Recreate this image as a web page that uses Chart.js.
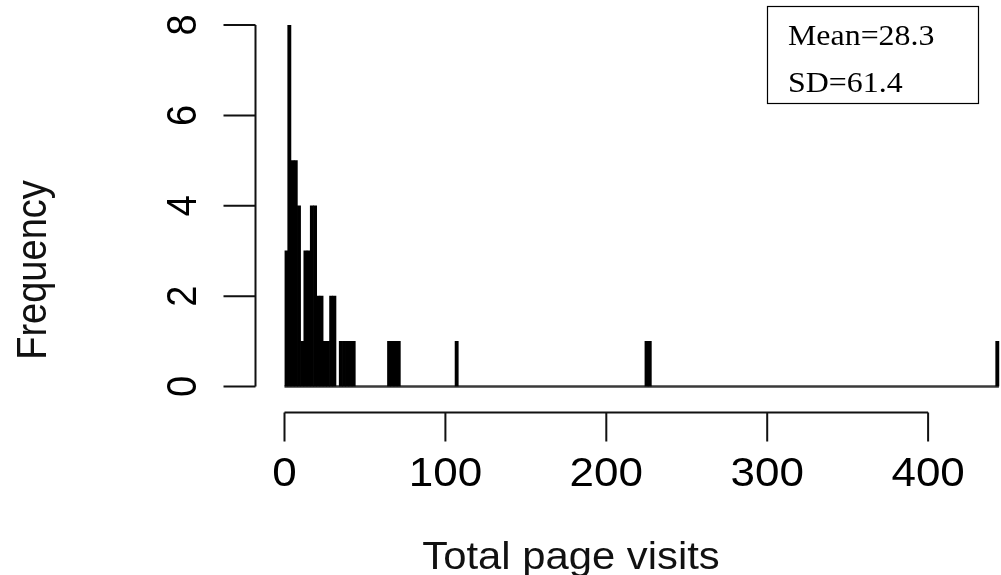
<!DOCTYPE html>
<html>
<head>
<meta charset="utf-8">
<script src="https://cdn.jsdelivr.net/npm/chart.js@4.4.1/dist/chart.umd.min.js"></script>
<style>
  html, body { margin: 0; padding: 0; background: #ffffff; }
  canvas { display: block; }
</style>
</head>
<body>
<canvas id="hist" width="1001" height="575"></canvas>
<script>
// Histogram of total page visits (bin width 2); only non-empty bins listed
const binWidth = 2;
const binStarts = [0, 2, 4, 6, 8, 10, 12, 14, 16, 18, 20, 22, 24, 26, 28, 30,
                   34, 36, 38, 40, 42, 64, 66, 68, 70, 106, 224, 226, 442];
const counts    = [3, 8, 5, 5, 4, 1, 3, 3, 4, 4, 2, 2, 1, 1, 2, 2,
                   1, 1, 1, 1, 1, 1, 1, 1, 1, 1, 1, 1, 1];
const xTicks = [0, 100, 200, 300, 400];
const yTicks = [0, 2, 4, 6, 8];
const xTitle = 'Total page visits';
const yTitle = 'Frequency';
const statLines = ['Mean=28.3', 'SD=61.4'];

const bars = binStarts.map((s, i) => ({ x: s + binWidth / 2, y: counts[i] }));
// empty bins collapse to a line along zero across the whole data range
const zeroLine = [
  { x: binStarts[0], y: 0 },
  { x: binStarts[binStarts.length - 1] + binWidth, y: 0 }
];

const SANS = '"Liberation Sans", Arial, sans-serif';
const SERIF = '"Liberation Serif", "Times New Roman", serif';
const WIDEN = 1.1; // text is drawn slightly wide, as in the printed figure

function wideText(ctx, text, x, y, angle) {
  ctx.save();
  ctx.translate(x, y);
  if (angle) ctx.rotate(angle);
  if (angle) ctx.scale(1, WIDEN); else ctx.scale(WIDEN, 1);
  ctx.fillText(text, 0, 0);
  ctx.restore();
}

// R-style detached axes, titles and the summary box
const baseAxes = {
  id: 'baseAxes',
  afterDraw(chart) {
    const ctx = chart.ctx;
    const xs = chart.scales.x, ys = chart.scales.y;
    const area = chart.chartArea;
    ctx.save();
    ctx.strokeStyle = '#111';
    ctx.fillStyle = '#000';
    ctx.lineWidth = 2;
    ctx.lineCap = 'butt';

    // y axis
    const ax = area.left - 29;
    const yA = ys.getPixelForValue(yTicks[0]);
    const yB = ys.getPixelForValue(yTicks[yTicks.length - 1]);
    ctx.beginPath();
    ctx.moveTo(ax, yA); ctx.lineTo(ax, yB);
    yTicks.forEach(v => {
      const py = ys.getPixelForValue(v);
      ctx.moveTo(ax, py); ctx.lineTo(ax - 32, py);
    });
    ctx.stroke();
    ctx.font = '38px ' + SANS;
    ctx.textAlign = 'center';
    ctx.textBaseline = 'alphabetic';
    yTicks.forEach(v => {
      wideText(ctx, String(v), 196, ys.getPixelForValue(v), -Math.PI / 2);
    });

    // x axis
    const ay = area.bottom + 26;
    ctx.beginPath();
    ctx.moveTo(xs.getPixelForValue(xTicks[0]), ay);
    ctx.lineTo(xs.getPixelForValue(xTicks[xTicks.length - 1]), ay);
    xTicks.forEach(v => {
      const px = xs.getPixelForValue(v);
      ctx.moveTo(px, ay); ctx.lineTo(px, ay + 29);
    });
    ctx.stroke();
    ctx.font = '40px ' + SANS;
    xTicks.forEach(v => {
      wideText(ctx, String(v), xs.getPixelForValue(v), 486);
    });

    // axis titles
    ctx.font = '38px ' + SANS;
    ctx.fillStyle = '#111';
    wideText(ctx, xTitle, 571, 569);
    wideText(ctx, yTitle, 46, 270, -Math.PI / 2);

    // summary box
    ctx.lineWidth = 1.2;
    ctx.strokeStyle = '#000';
    ctx.strokeRect(767.5, 6.5, 211, 97);
    ctx.fillStyle = '#000';
    ctx.font = '29px ' + SERIF;
    ctx.textAlign = 'left';
    wideText(ctx, statLines[0], 788, 45);
    wideText(ctx, statLines[1], 788, 92);
    ctx.restore();
  }
};

new Chart(document.getElementById('hist'), {
  type: 'bar',
  data: {
    datasets: [
      {
        type: 'bar',
        data: bars,
        backgroundColor: '#000000',
        borderWidth: 0,
        barPercentage: 1,
        categoryPercentage: 1,
        order: 1
      },
      {
        type: 'line',
        data: zeroLine,
        borderColor: '#3a3a3a',
        borderWidth: 2.5,
        pointRadius: 0,
        clip: 4,
        order: 2
      }
    ]
  },
  options: {
    responsive: false,
    animation: false,
    layout: { padding: { left: 284.5, right: 0, top: 25, bottom: 188.5 } },
    plugins: { legend: { display: false }, tooltip: { enabled: false } },
    scales: {
      x: { type: 'linear', min: 0, max: 445.3, offset: false, display: false },
      y: { type: 'linear', min: 0, max: 8, display: false }
    }
  },
  plugins: [baseAxes]
});
</script>
</body>
</html>
